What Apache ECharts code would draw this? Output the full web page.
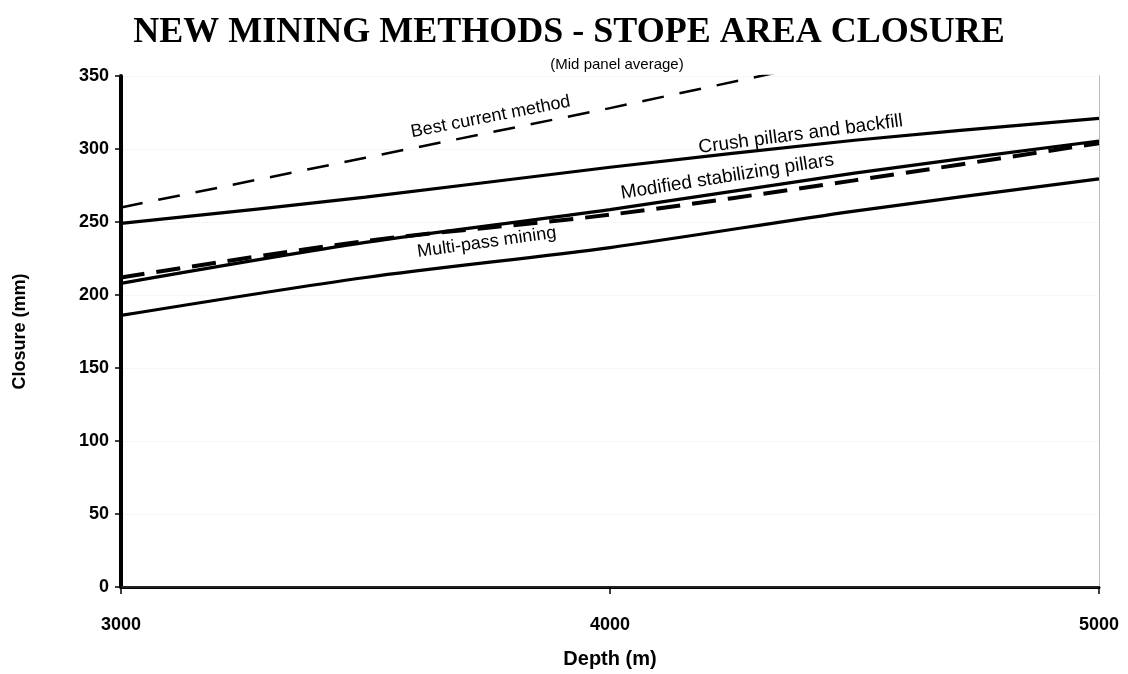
<!DOCTYPE html>
<html>
<head>
<meta charset="utf-8">
<script src="https://cdn.jsdelivr.net/npm/echarts@6/dist/echarts.min.js"></script>
<style>
html,body{margin:0;padding:0;background:#fff;}
#chart{width:1128px;height:674px;}
</style>
</head>
<body>
<div id="chart"></div>
<script>
// ---- data ----
const depths = [3000, 3500, 4000, 4500, 5000];
const bestCurrentDepths = [3000, 3500, 4000, 4350];
const bestCurrent = [260, 294, 328, 353];
const crushPillars = [249, 267, 287.5, 306, 321];
const modifiedStab = [208, 236, 258.5, 283.5, 305.5];
const modifiedStabDashed = [212, 237, 255, 278.5, 304];
const multiPass = [186, 212, 232.5, 257.5, 279.5];
const yTicks = [0, 50, 100, 150, 200, 250, 300, 350];
const xTicks = [3000, 4000, 5000];
// label anchors [depth, closure, text, rotation, font size]
const labels = {
  best: [3756, 322, 'Best current method', 11, 18],
  crush: [4390, 310, 'Crush pillars and backfill', 7.5, 19],
  modified: [4240, 281, 'Modified stabilizing pillars', 9, 19],
  multi: [3748, 236, 'Multi-pass mining', 8, 18]
};

function pairs(xs, ys) { return xs.map((x, i) => [x, ys[i]]); }
function mk(l) {
  return {
    symbol: 'circle', symbolSize: 0, silent: true,
    itemStyle: {color: 'rgba(0,0,0,0)'},
    label: {show: true, position: 'inside', color: '#000', fontFamily: 'Liberation Sans, Arial, sans-serif', fontSize: l[4]},
    data: [{coord: [l[0], l[1]], label: {formatter: l[2], rotate: l[3]}}]
  };
}

const chart = echarts.init(document.getElementById('chart'), null, {renderer: 'canvas'});
const axisFont = {fontFamily: 'Liberation Sans, Arial, sans-serif', fontWeight: 'bold', color: '#000'};
chart.setOption({
  backgroundColor: '#fff',
  animation: false,
  title: [
    {text: 'NEW MINING METHODS - STOPE AREA CLOSURE', left: 564, top: 10, textAlign: 'center',
     textStyle: {fontFamily: 'Liberation Serif, Times New Roman, serif', fontWeight: 'bold', fontSize: 36, color: '#000'}},
    {text: '(Mid panel average)', left: 612, top: 52, textAlign: 'center',
     textStyle: {fontFamily: 'Liberation Sans, Arial, sans-serif', fontWeight: 'normal', fontSize: 15, color: '#000'}}
  ],
  grid: {left: 121, right: 29, top: 76, bottom: 84, containLabel: false},
  xAxis: [
    {type: 'value', min: xTicks[0], max: xTicks[xTicks.length - 1], interval: 1000,
     name: 'Depth (m)', nameLocation: 'middle', nameGap: 62,
     nameTextStyle: Object.assign({fontSize: 20}, axisFont),
     axisLine: {show: true, lineStyle: {color: '#000', width: 3}},
     axisTick: {show: true, inside: false, length: 7, lineStyle: {color: '#000', width: 1.5}},
     axisLabel: Object.assign({fontSize: 18, margin: 29,
       formatter: v => xTicks.includes(v) ? String(v) : ''}, axisFont),
     splitLine: {show: false}},
    {type: 'value', position: 'top', min: xTicks[0], max: xTicks[xTicks.length - 1], interval: 1000,
     axisLine: {show: true, lineStyle: {color: '#222', width: 2}},
     axisTick: {show: false}, axisLabel: {show: false}, splitLine: {show: false}}
  ],
  yAxis: [
    {type: 'value', min: 0, max: 350, interval: 50,
     name: 'Closure (mm)', nameLocation: 'middle', nameGap: 92, nameRotate: 90,
     nameTextStyle: Object.assign({fontSize: 18}, axisFont),
     axisLine: {show: true, lineStyle: {color: '#000', width: 4}},
     axisTick: {show: true, inside: false, length: 6, lineStyle: {color: '#000', width: 1.5}},
     axisLabel: Object.assign({fontSize: 18, margin: 12,
       formatter: v => yTicks.includes(v) ? String(v) : ''}, axisFont),
     splitLine: {show: true, lineStyle: {color: '#eeeeee', type: 'dotted', width: 1}}},
    {type: 'value', position: 'right', min: 0, max: 350, interval: 50,
     axisLine: {show: true, lineStyle: {color: '#aaa', width: 1, type: 'dotted'}},
     axisTick: {show: false}, axisLabel: {show: false}, splitLine: {show: false}}
  ],
  series: [
    {name: 'Best current method', type: 'line', data: pairs(bestCurrentDepths, bestCurrent),
     symbol: 'none', clip: true,
     lineStyle: {color: '#000', width: 2.5, type: [22, 16]}, markPoint: mk(labels.best)},
    {name: 'Crush pillars and backfill', type: 'line', data: pairs(depths, crushPillars), smooth: 0.3,
     symbol: 'none', lineStyle: {color: '#000', width: 3.2}, markPoint: mk(labels.crush)},
    {name: 'Modified stabilizing pillars (dashed)', type: 'line', data: pairs(depths, modifiedStabDashed), smooth: 0.3,
     symbol: 'none', lineStyle: {color: '#000', width: 4, type: [24, 12]}},
    {name: 'Modified stabilizing pillars', type: 'line', data: pairs(depths, modifiedStab), smooth: 0.3,
     symbol: 'none', lineStyle: {color: '#000', width: 3.2}, markPoint: mk(labels.modified)},
    {name: 'Multi-pass mining', type: 'line', data: pairs(depths, multiPass), smooth: 0.3,
     symbol: 'none', lineStyle: {color: '#000', width: 3.2}, markPoint: mk(labels.multi)}
  ]
});
</script>
</body>
</html>
